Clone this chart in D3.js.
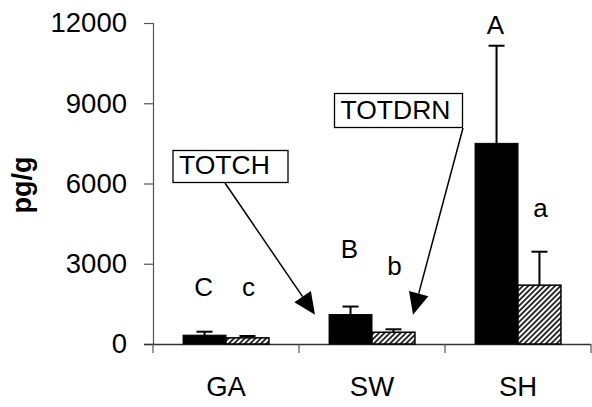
<!DOCTYPE html>
<html>
<head>
<meta charset="utf-8">
<script src="https://cdn.jsdelivr.net/npm/d3@7"></script>
<style>
  html, body { margin: 0; padding: 0; background: #fff; }
  svg { display: block; font-family: "Liberation Sans", Arial, sans-serif; }
</style>
</head>
<body>
<svg id="chart" width="592" height="407"></svg>
<script>
// ---- data ----
const categories = ["GA", "SW", "SH"];
const series = ["TOTCH", "TOTDRN"];
const totchMean = [330, 1100, 7500];
const totchErrTop = [460, 1400, 11150];
const totdrnMean = [230, 440, 2200];
const totdrnErrTop = [300, 550, 3450];
const totchLetters = ["C", "B", "A"];
const totdrnLetters = ["c", "b", "a"];
const totchLetterY = [1800, 3230, 11590];
const totdrnLetterY = [1800, 2590, 4730];
const yTicks = [0, 3000, 6000, 9000, 12000];
const yLabel = "pg/g";

// ---- layout ----
const svg = d3.select("#chart");
const x0 = d3.scaleBand().domain(categories).range([153, 591]).paddingInner(0).paddingOuter(0);
const x1 = d3.scaleBand().domain(series).range([0, x0.bandwidth()]).paddingInner(0).paddingOuter(0.7);
const y = d3.scaleLinear().domain([0, 12000]).range([344, 23]);

// hatch pattern
const defs = svg.append("defs");
const pat = defs.append("pattern")
  .attr("id", "hatch").attr("patternUnits", "userSpaceOnUse")
  .attr("width", 3.8).attr("height", 3.8)
  .attr("patternTransform", "rotate(45)");
pat.append("rect").attr("width", 3.8).attr("height", 3.8).attr("fill", "#fff");
pat.append("line").attr("x1", 1.9).attr("y1", -1).attr("x2", 1.9).attr("y2", 4.8)
  .attr("stroke", "#000").attr("stroke-width", 1.6);

// y axis
const yAxis = d3.axisLeft(y).tickValues(yTicks).tickSize(9).tickPadding(17).tickFormat(d3.format("d"));
const gy = svg.append("g").attr("transform", "translate(153,0)").call(yAxis);
gy.select(".domain").attr("stroke", "#555").attr("stroke-width", 1.2);
gy.selectAll(".tick line").attr("stroke", "#555").attr("stroke-width", 1.2);
gy.selectAll(".tick text").attr("font-size", 27.5).attr("fill", "#000")
  .attr("font-family", "'Liberation Sans', Arial, sans-serif");

// x axis
const xAxis = d3.axisBottom(x0).tickSize(0).tickPadding(0);
const gx = svg.append("g").attr("transform", "translate(0,344)").call(xAxis);
gx.select(".domain").remove();
gx.selectAll(".tick text").remove();
svg.append("line").attr("x1", 144).attr("x2", 591).attr("y1", 344.5).attr("y2", 344.5)
  .attr("stroke", "#333").attr("stroke-width", 1.3);
const bounds = categories.map(c => x0(c)).concat([x0(categories[categories.length - 1]) + x0.bandwidth()]);
svg.selectAll("line.xt").data(bounds).enter().append("line")
  .attr("class", "xt")
  .attr("x1", d => d).attr("x2", d => d).attr("y1", 344).attr("y2", 353)
  .attr("stroke", "#555").attr("stroke-width", 1.2);
svg.selectAll("text.xl").data(categories).enter().append("text")
  .attr("class", "xl")
  .attr("x", d => x0(d) + x0.bandwidth() / 2).attr("y", 396)
  .attr("text-anchor", "middle").attr("font-size", 27.5).text(d => d);

// y label
svg.append("text").attr("transform", "translate(31,185) rotate(-90)")
  .attr("text-anchor", "middle").attr("font-size", 27).attr("font-weight", "bold").text(yLabel);

// bars
const bw = x1.bandwidth();
function drawSeries(name, means, errs, letters, letterY, black) {
  const g = svg.append("g");
  categories.forEach((c, i) => {
    const bx = x0(c) + x1(name);
    const cx = bx + bw / 2;
    // error bar
    g.append("line").attr("x1", cx).attr("x2", cx).attr("y1", y(means[i])).attr("y2", y(errs[i]))
      .attr("stroke", "#000").attr("stroke-width", 2);
    g.append("line").attr("x1", cx - 8).attr("x2", cx + 8).attr("y1", y(errs[i])).attr("y2", y(errs[i]))
      .attr("stroke", "#000").attr("stroke-width", 2);
    g.append("rect").attr("x", bx).attr("y", y(means[i]))
      .attr("width", bw).attr("height", y(0) - y(means[i]))
      .attr("fill", black ? "#000" : "url(#hatch)")
      .attr("stroke", "#000").attr("stroke-width", black ? 1 : 1.5);
    g.append("text").attr("x", cx + (black ? -1 : 1)).attr("y", y(letterY[i]))
      .attr("text-anchor", "middle").attr("font-size", 26).text(letters[i]);
  });
}
drawSeries("TOTCH", totchMean, totchErrTop, totchLetters, totchLetterY, true);
drawSeries("TOTDRN", totdrnMean, totdrnErrTop, totdrnLetters, totdrnLetterY, false);

// annotation boxes with arrows
function arrow(xa, ya, xb, yb) {
  const ang = Math.atan2(yb - ya, xb - xa);
  const L = 22, W = 10;
  const bx = xb - L * Math.cos(ang), by = yb - L * Math.sin(ang);
  svg.append("line").attr("x1", xa).attr("y1", ya).attr("x2", bx).attr("y2", by)
    .attr("stroke", "#000").attr("stroke-width", 1.5);
  const p1 = [bx + W * Math.sin(ang), by - W * Math.cos(ang)];
  const p2 = [bx - W * Math.sin(ang), by + W * Math.cos(ang)];
  svg.append("path").attr("d", `M${xb},${yb}L${p1[0]},${p1[1]}L${p2[0]},${p2[1]}Z`).attr("fill", "#000");
}
function box(label, x, yTop, w, h) {
  svg.append("rect").attr("x", x).attr("y", yTop).attr("width", w).attr("height", h)
    .attr("fill", "#fff").attr("stroke", "#000").attr("stroke-width", 1.3);
  svg.append("text").attr("x", x + 6).attr("y", yTop + h - 9).attr("font-size", 26.5).text(label);
}
arrow(225, 183, 315, y(1090));
box("TOTCH", 173, 150.5, 115, 32);
arrow(463, 128, 413, y(1090));
box("TOTDRN", 334.5, 93.5, 128, 34);
</script>
</body>
</html>
